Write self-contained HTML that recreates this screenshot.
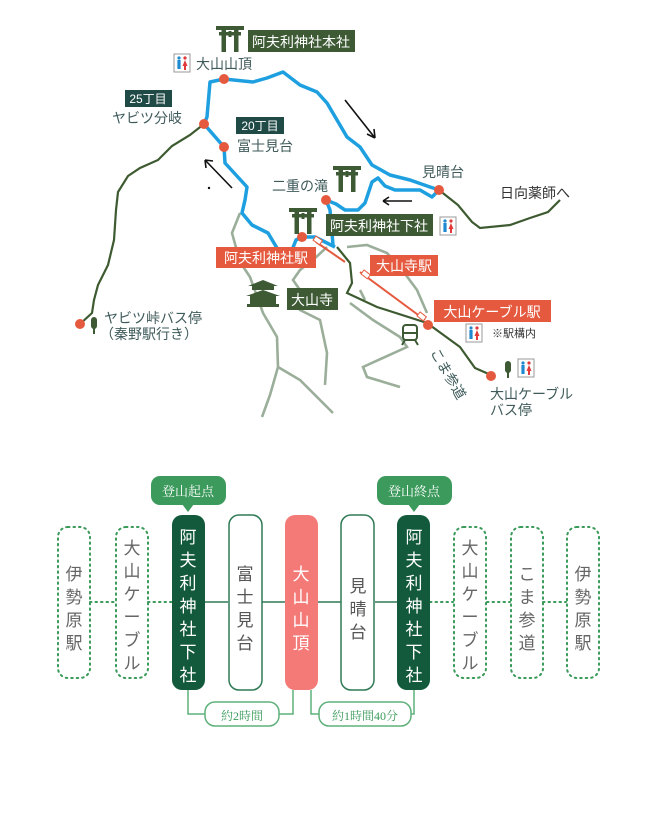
<!DOCTYPE html>
<html><head><meta charset="utf-8"><style>
html,body{margin:0;padding:0;background:#fff;}
svg{display:block;}
text{font-family:"Liberation Sans","Noto Sans CJK JP",sans-serif;}
.v{font-family:"Liberation Serif","Noto Serif CJK SC",serif;}
</style></head><body>
<svg width="660" height="836" viewBox="0 0 660 836" xmlns="http://www.w3.org/2000/svg">
<defs>
<g id="torii"><rect x="-14" y="-12" width="28" height="4" fill="#3d5a35"/><rect x="-11" y="-6" width="22" height="3.5" fill="#3d5a35"/><rect x="-8.5" y="-9" width="4.5" height="23" fill="#3d5a35"/><rect x="4" y="-9" width="4.5" height="23" fill="#3d5a35"/><rect x="-1.5" y="-7" width="3" height="6" fill="#3d5a35"/></g>
<g id="wc"><rect x="-8" y="-9" width="16" height="18" fill="#fff" stroke="#999" stroke-width="1"/><circle cx="-3" cy="-5" r="1.6" fill="#1e88d0"/><rect x="-4.6" y="-3" width="3.2" height="9" fill="#1e88d0"/><circle cx="3" cy="-5" r="1.6" fill="#e03a3a"/><path d="M3,-3 L5.5,3 L0.5,3 Z" fill="#e03a3a"/><rect x="2" y="3" width="2" height="4" fill="#e03a3a"/></g>
<g id="bus"><rect x="-3" y="-8" width="6" height="12" rx="3" fill="#3d5a35"/><rect x="-1" y="3" width="2" height="6" fill="#3d5a35"/></g>
</defs>
<g fill="none" stroke="#9aae9a" stroke-width="2.6">
<path d="M240,213 L232,233 L240,262 L250,277 L263,313 L277,337 L278,367 L270,395 L262,417"/>
<path d="M278,367 L300,380 L333,413"/>
<path d="M327,247 L313,260 L300,270 L293,280 L300,290 L300,310 L320,320 L327,353 L325,385"/>
<path d="M347,247 L367,245 L387,253 L400,267 L417,290 L427,313"/>
<path d="M350,303 L373,320 L400,337 L407,347 L363,367 L367,377 L400,387"/>
<path d="M360,290 L365,300"/>
</g>
<g fill="none" stroke="#3d5a30" stroke-width="2.2">
<path d="M204,124 L190,135 L172,146 L158,160 L140,168 L128,176 L118,192 L116,210 L114,240 L108,265 L98,285 L94,300 L92,313 L80,324"/>
<path d="M439,190 L458,205 L472,222 L480,228 L510,225 L530,218 L548,212 L560,200"/>
<path d="M337,247 L350,263 L352,283 L347,293 L377,307 L427,323 L460,347 L475,368 L491,375"/>
</g>
<g fill="none" stroke="#1ea0e0" stroke-width="3.5" stroke-linejoin="round">
<path d="M224,147 L204,124 L207,117 L210,82 L224,79 L253,82 L267,78 L283,72 L300,85 L317,92 L327,103 L347,137 L360,147 L372,165 L390,175 L410,180 L430,187 L439,190"/>
<path d="M224,147 L225,163 L247,187 L245,200 L242,213 L252,225 L268,233 L277,248"/>
<path d="M439,190 L432,197 L420,190 L395,190 L385,186 L378,178 L372,182 L365,203 L358,210 L345,210 L336,204 L326,200"/>
<path d="M326,200 L330,210 L333,245"/>
<path d="M292,250 L296,240 L302,237 L315,237 L335,247"/>
</g>
<g stroke="#e55a3f" stroke-width="2"><line x1="316" y1="242" x2="345" y2="262"/><line x1="360" y1="272" x2="425" y2="320"/></g>
<rect x="314" y="238" width="8" height="5" fill="#fff" stroke="#e55a3f" stroke-width="1" transform="rotate(35 318 240)"/>
<rect x="362" y="272" width="8" height="5" fill="#fff" stroke="#e55a3f" stroke-width="1" transform="rotate(38 366 274)"/>
<rect x="418" y="314" width="8" height="5" fill="#fff" stroke="#e55a3f" stroke-width="1" transform="rotate(38 422 316)"/>
<g fill="#e55a3f"><circle cx="224" cy="79" r="5"/><circle cx="204" cy="124" r="5"/><circle cx="224" cy="147" r="5"/><circle cx="439" cy="190" r="5"/><circle cx="326" cy="200" r="5"/><circle cx="302" cy="237" r="5"/><circle cx="428" cy="325" r="5"/><circle cx="80" cy="324" r="5"/><circle cx="491" cy="376" r="5"/></g>
<g stroke="#111" stroke-width="1.6" fill="none"><path d="M345,100 L375,138 M375,138 L374,129 M375,138 L367,134"/><path d="M232,188 L205,160 M205,160 L206,168 M205,160 L213,161"/><path d="M412,201 L383,201 M383,201 L389,197 M383,201 L389,205"/></g>
<circle cx="209" cy="188" r="1.2" fill="#111"/>
<use href="#torii" x="230" y="38"/><use href="#torii" x="347" y="178"/><use href="#torii" x="303" y="220"/>
<use href="#wc" x="182" y="63"/><use href="#wc" x="448" y="226"/><use href="#wc" x="474" y="333"/><use href="#wc" x="526" y="368"/>
<use href="#bus" x="94" y="325"/><use href="#bus" x="508" y="369"/>
<g fill="#3d5a35"><path d="M248,286 L263,280 L278,286 Z"/><rect x="252" y="286" width="22" height="4"/><path d="M246,296 L263,290 L280,296 Z"/><rect x="250" y="296" width="26" height="8"/><rect x="247" y="304" width="32" height="3"/></g>
<g fill="none" stroke="#3d5a35" stroke-width="2"><rect x="403" y="325" width="14" height="15" rx="3"/><line x1="403" y1="333" x2="417" y2="333"/><line x1="405" y1="340" x2="402" y2="345"/><line x1="415" y1="340" x2="418" y2="345"/></g>
<rect x="248" y="30" width="107" height="22" fill="#3d5a35"/><text x="301" y="47" font-size="14" fill="#fff" text-anchor="middle">阿夫利神社本社</text>
<text x="196" y="69" font-size="14" fill="#3f5a5a">大山山頂</text>
<rect x="125" y="90" width="47" height="17" fill="#1f4a45"/><text x="148" y="103" font-size="12" fill="#fff" text-anchor="middle">25丁目</text>
<text x="112" y="123" font-size="14" fill="#3f5a5a">ヤビツ分岐</text>
<rect x="236" y="117" width="48" height="17" fill="#1f4a45"/><text x="260" y="130" font-size="12" fill="#fff" text-anchor="middle">20丁目</text>
<text x="237" y="151" font-size="14" fill="#3f5a5a">富士見台</text>
<text x="422" y="177" font-size="14" fill="#3f5a5a">見晴台</text>
<text x="500" y="198" font-size="14" fill="#333">日向薬師へ</text>
<text x="272" y="191" font-size="14" fill="#3f5a5a">二重の滝</text>
<rect x="326" y="214" width="107" height="22" fill="#3d5a35"/><text x="379" y="231" font-size="14" fill="#fff" text-anchor="middle">阿夫利神社下社</text>
<rect x="216" y="247" width="100" height="21" fill="#e55a3f"/><text x="266" y="263" font-size="14" fill="#fff" text-anchor="middle">阿夫利神社駅</text>
<rect x="370" y="255" width="68" height="21" fill="#e55a3f"/><text x="404" y="271" font-size="14" fill="#fff" text-anchor="middle">大山寺駅</text>
<rect x="287" y="288" width="51" height="22" fill="#3d5a35"/><text x="312" y="305" font-size="14" fill="#fff" text-anchor="middle">大山寺</text>
<rect x="434" y="300" width="117" height="22" fill="#e55a3f"/><text x="492" y="317" font-size="14" fill="#fff" text-anchor="middle">大山ケーブル駅</text>
<text x="492" y="337" font-size="11" fill="#333">※駅構内</text>
<text x="104" y="323" font-size="14" fill="#3f5a5a">ヤビツ峠バス停</text>
<text x="100" y="339" font-size="14" fill="#3f5a5a">（秦野駅行き）</text>
<text x="490" y="399" font-size="14" fill="#3f5a5a">大山ケーブル</text>
<text x="490" y="415" font-size="14" fill="#3f5a5a">バス停</text>
<text x="430" y="352" font-size="14" fill="#3f5a5a" transform="rotate(60 430 352)">こま参道</text>

<g fill="none" stroke="#3a9a5a" stroke-width="2" stroke-dasharray="1.5 4" stroke-linecap="round">
<line x1="90" y1="602" x2="116" y2="602"/><line x1="148" y1="602" x2="172" y2="602"/>
<line x1="430" y1="602" x2="453" y2="602"/><line x1="487" y1="602" x2="510" y2="602"/><line x1="543" y1="602" x2="566" y2="602"/>
<rect x="58" y="527" width="32" height="151" rx="10"/><rect x="116" y="527" width="32" height="151" rx="10"/>
<rect x="454" y="527" width="32" height="151" rx="10"/><rect x="511" y="527" width="32" height="151" rx="10"/><rect x="567" y="527" width="32" height="151" rx="10"/>
</g>
<g stroke="#2f7a55" stroke-width="1.5" fill="none">
<line x1="205" y1="602" x2="228" y2="602"/><line x1="262" y1="602" x2="285" y2="602"/><line x1="318" y1="602" x2="341" y2="602"/><line x1="375" y1="602" x2="397" y2="602"/>
</g>
<g stroke="#5fb07a" stroke-width="1.5" fill="none">
<path d="M188,690 L188,714 L205,714"/><path d="M279,714 L293,714 L293,690"/>
<path d="M311,690 L311,714 L319,714"/><path d="M411,714 L414,714 L414,690"/>
<rect x="205" y="702" width="74" height="24" rx="10" fill="#fff"/><rect x="319" y="702" width="92" height="24" rx="10" fill="#fff"/>
</g>
<text x="242" y="720" font-size="12" fill="#3a9a5a" text-anchor="middle" class="v">約2時間</text>
<text x="365" y="720" font-size="12" fill="#3a9a5a" text-anchor="middle" class="v">約1時間40分</text>
<rect x="172" y="515" width="33" height="175" rx="10" fill="#135a3c"/>
<rect x="229" y="515" width="33" height="175" rx="10" fill="#fff" stroke="#2f7a55" stroke-width="1.5"/>
<rect x="285" y="515" width="33" height="175" rx="10" fill="#f47a78"/>
<rect x="341" y="515" width="33" height="175" rx="10" fill="#fff" stroke="#2f7a55" stroke-width="1.5"/>
<rect x="397" y="515" width="33" height="175" rx="10" fill="#135a3c"/>
<rect x="151" y="476" width="75" height="29" rx="9" fill="#3c9a5c"/><path d="M182,504 L188,512 L194,504 Z" fill="#3c9a5c"/>
<text x="188" y="496" font-size="13" fill="#fff" text-anchor="middle" class="v">登山起点</text>
<rect x="377" y="476" width="75" height="29" rx="9" fill="#3c9a5c"/><path d="M408,504 L414,512 L420,504 Z" fill="#3c9a5c"/>
<text x="414" y="496" font-size="13" fill="#fff" text-anchor="middle" class="v">登山終点</text>
<g font-size="17" text-anchor="middle" class="v">
<text fill="#666"><tspan x="74" y="580">伊</tspan><tspan x="74" y="603">勢</tspan><tspan x="74" y="626">原</tspan><tspan x="74" y="649">駅</tspan></text>
<text fill="#666"><tspan x="132" y="554">大</tspan><tspan x="132" y="577">山</tspan><tspan x="132" y="600">ケ</tspan><tspan x="132" y="623">ー</tspan><tspan x="132" y="646">ブ</tspan><tspan x="132" y="669">ル</tspan></text>
<text fill="#fff"><tspan x="188" y="543">阿</tspan><tspan x="188" y="566">夫</tspan><tspan x="188" y="589">利</tspan><tspan x="188" y="612">神</tspan><tspan x="188" y="635">社</tspan><tspan x="188" y="658">下</tspan><tspan x="188" y="681">社</tspan></text>
<text fill="#555"><tspan x="245" y="580">富</tspan><tspan x="245" y="603">士</tspan><tspan x="245" y="626">見</tspan><tspan x="245" y="649">台</tspan></text>
<text fill="#fff"><tspan x="301" y="580">大</tspan><tspan x="301" y="603">山</tspan><tspan x="301" y="626">山</tspan><tspan x="301" y="649">頂</tspan></text>
<text fill="#555"><tspan x="358" y="592">見</tspan><tspan x="358" y="615">晴</tspan><tspan x="358" y="638">台</tspan></text>
<text fill="#fff"><tspan x="414" y="543">阿</tspan><tspan x="414" y="566">夫</tspan><tspan x="414" y="589">利</tspan><tspan x="414" y="612">神</tspan><tspan x="414" y="635">社</tspan><tspan x="414" y="658">下</tspan><tspan x="414" y="681">社</tspan></text>
<text fill="#666"><tspan x="470" y="554">大</tspan><tspan x="470" y="577">山</tspan><tspan x="470" y="600">ケ</tspan><tspan x="470" y="623">ー</tspan><tspan x="470" y="646">ブ</tspan><tspan x="470" y="669">ル</tspan></text>
<text fill="#666"><tspan x="527" y="580">こ</tspan><tspan x="527" y="603">ま</tspan><tspan x="527" y="626">参</tspan><tspan x="527" y="649">道</tspan></text>
<text fill="#666"><tspan x="583" y="580">伊</tspan><tspan x="583" y="603">勢</tspan><tspan x="583" y="626">原</tspan><tspan x="583" y="649">駅</tspan></text>
</g>
</svg>
</body></html>
